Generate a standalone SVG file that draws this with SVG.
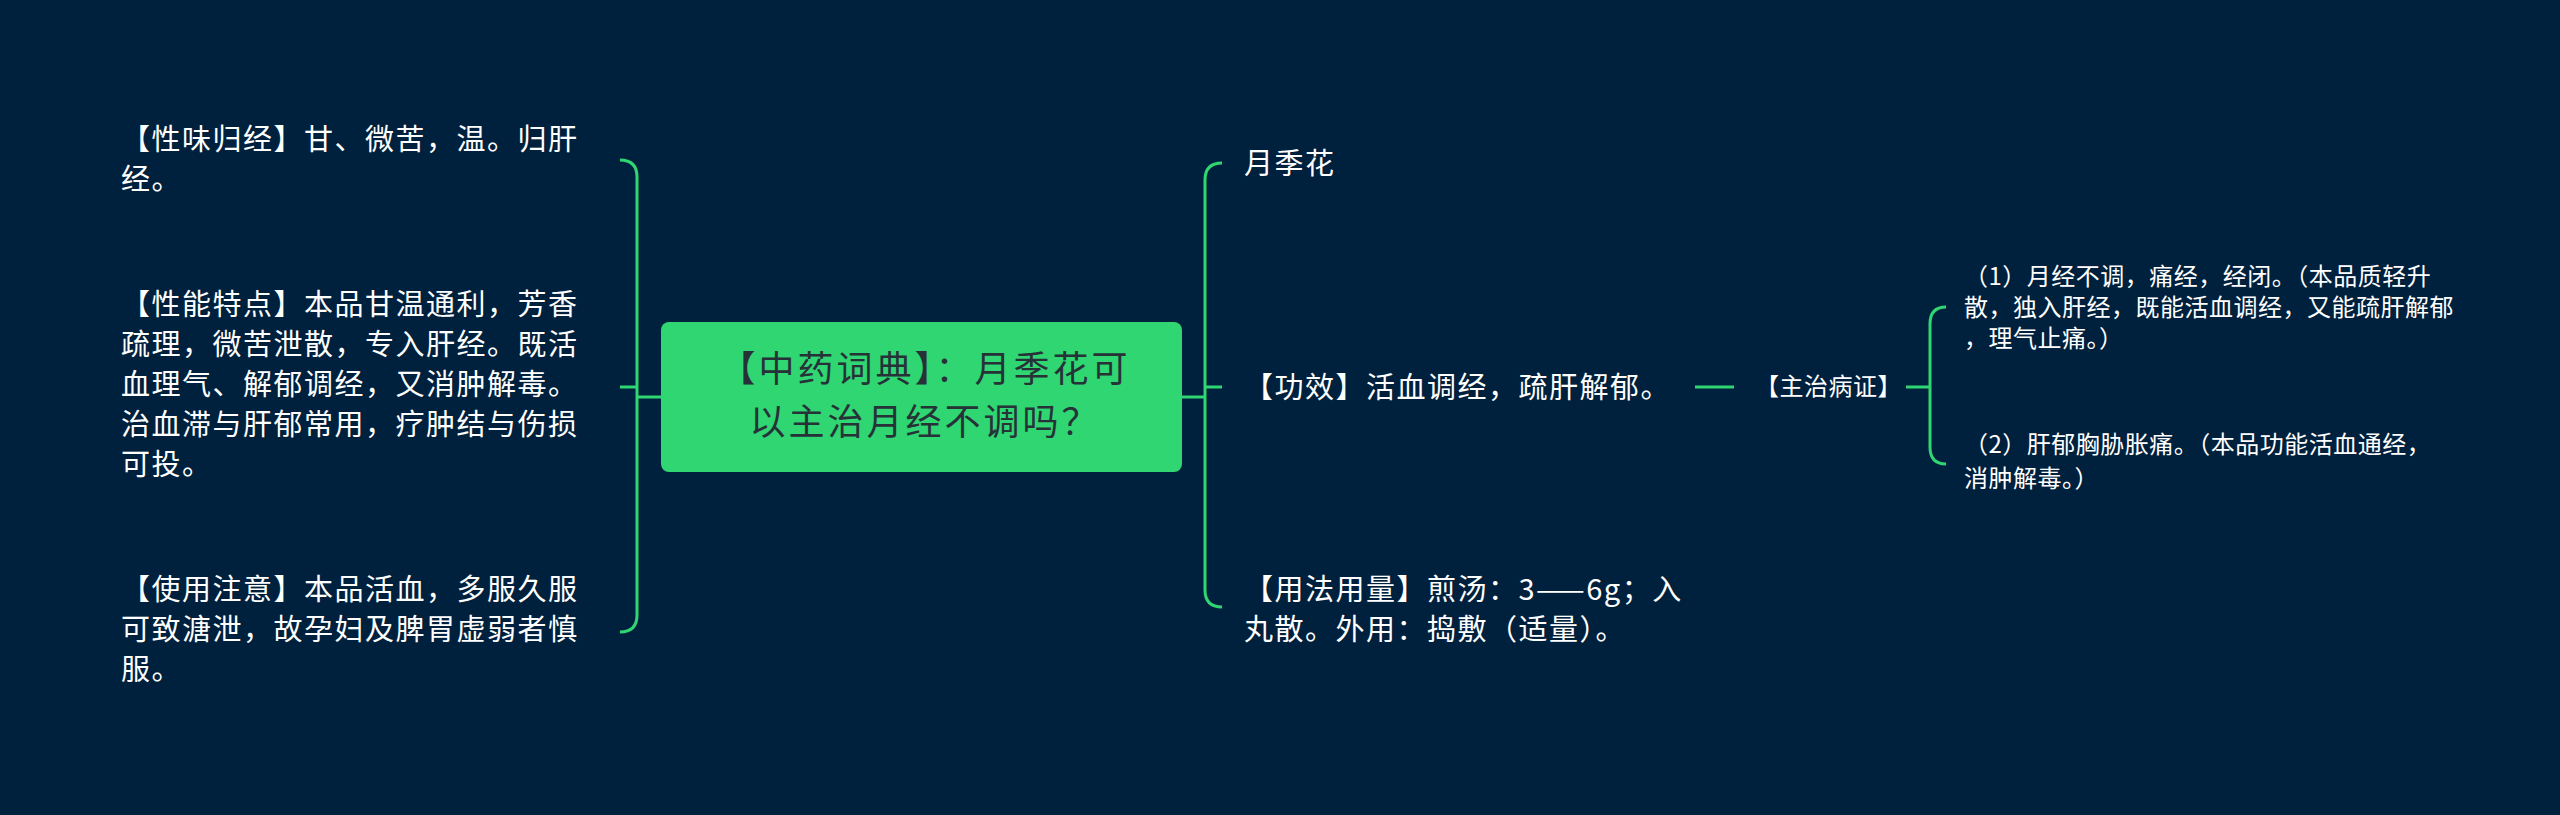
<svg xmlns="http://www.w3.org/2000/svg" width="2560" height="815" viewBox="0 0 2560 815">
<style>
.t{font-family:"Noto Sans CJK SC","Liberation Sans",sans-serif;fill:#ffffff;font-size:29px;letter-spacing:1.5px}
.s{font-size:24px;letter-spacing:0.5px}
.c{stroke:#2fd672;stroke-width:3;fill:none}
</style>
<rect width="2560" height="815" fill="#00213d"/>
<g id="connectors">
<path class="c" d="M661 397H637M620 160Q637 160 637 177V615Q637 632 620 632M620 387H637"/>
<path class="c" d="M1182 397H1205M1222 163Q1205 163 1205 180V590Q1205 607 1222 607M1205 387H1222"/>
<path class="c" d="M1695 387H1734M1906 387H1930M1946 307Q1930 307 1930 324V447Q1930 464 1946 464"/>
</g>
<g id="center"><rect x="661" y="322" width="521" height="150" rx="8" fill="#2fd672"/>
<text class="t" style="font-size:36px;fill:#263238;letter-spacing:3px" text-anchor="middle"><tspan x="925" y="382">【中药词典】：月季花可</tspan><tspan x="925" y="435">以主治月经不调吗？</tspan></text></g>
<g id="n1"><text class="t"><tspan x="121" y="150">【性味归经】甘、微苦，温。归肝</tspan><tspan x="121" y="190">经。</tspan></text></g>
<g id="n2"><text class="t"><tspan x="121" y="315">【性能特点】本品甘温通利，芳香</tspan><tspan x="121" y="355">疏理，微苦泄散，专入肝经。既活</tspan><tspan x="121" y="395">血理气、解郁调经，又消肿解毒。</tspan><tspan x="121" y="435">治血滞与肝郁常用，疗肿结与伤损</tspan><tspan x="121" y="475">可投。</tspan></text></g>
<g id="n3"><text class="t"><tspan x="121" y="600">【使用注意】本品活血，多服久服</tspan><tspan x="121" y="640">可致溏泄，故孕妇及脾胃虚弱者慎</tspan><tspan x="121" y="680">服。</tspan></text></g>
<g id="n4"><text class="t" x="1244" y="174">月季花</text></g>
<g id="n5"><text class="t" x="1244" y="398">【功效】活血调经，疏肝解郁。</text></g>
<g id="n6"><text class="t"><tspan x="1244" y="600">【用法用量】煎汤：3——6g；入</tspan><tspan x="1244" y="640">丸散。外用：捣敷（适量）。</tspan></text></g>
<g id="n7"><text class="t s" x="1755" y="395">【主治病证】</text></g>
<g id="n8"><text class="t s"><tspan x="1964" y="285"> （1）月经不调，痛经，经闭。（本品质轻升</tspan><tspan x="1964" y="316">散，独入肝经，既能活血调经，又能疏肝解郁</tspan><tspan x="1964" y="347">，理气止痛。）</tspan></text></g>
<g id="n9"><text class="t s"><tspan x="1964" y="453"> （2）肝郁胸胁胀痛。（本品功能活血通经，</tspan><tspan x="1964" y="487">消肿解毒。）</tspan></text></g>
</svg>
